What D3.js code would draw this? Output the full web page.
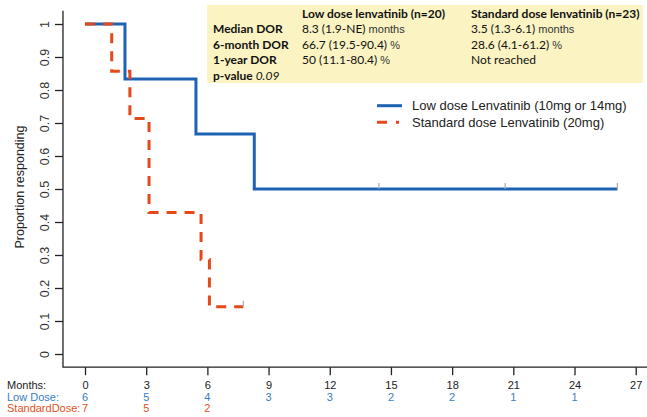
<!DOCTYPE html>
<html><head><meta charset="utf-8">
<script src="https://cdn.jsdelivr.net/npm/d3@7"></script>
<style>
body{margin:0;background:#fff;}
svg{display:block;}
text{font-family:"Liberation Sans",Arial,sans-serif;}
</style></head>
<body>
<script>
// ---- data ----
const lowTimes = [0, 1.96, 5.44, 8.3, 26.1];
const lowSurv  = [1, 0.833, 0.667, 0.5, 0.5];
const lowCensor = [14.41, 20.6, 26.1];
const stdTimes = [0, 1.31, 2.2, 3.14, 5.69, 6.1, 7.76];
const stdSurv  = [1, 0.857, 0.714, 0.429, 0.286, 0.143, 0.143];
const stdCensor = [7.76];
const monthTicks = [0, 3, 6, 9, 12, 15, 18, 21, 24, 27];
const yTicks = [0, 0.1, 0.2, 0.3, 0.4, 0.5, 0.6, 0.7, 0.8, 0.9, 1];
const riskLow = [6, 5, 4, 3, 3, 2, 2, 1, 1];
const riskStd = [7, 5, 2];
const legendLabels = ["Low dose Lenvatinib (10mg or 14mg)", "Standard dose Lenvatinib (20mg)"];
const tableRows = ["Median DOR", "6-month DOR", "1-year DOR"];
const tableHeaders = ["Low dose lenvatinib (n=20)", "Standard dose lenvatinib (n=23)"];
const tableLow = [["8.3 (1.9-NE)", " months"], ["66.7 (19.5-90.4)", " %"], ["50 (11.1-80.4)", " %"]];
const tableStd = [["3.5 (1.3-6.1)", " months"], ["28.6 (4.1-61.2)", " %"], ["Not reached", ""]];
const pValue = "0.09";

const blue = "#1e62b4", red = "#e4491a";
const blueText = "#3a7dc2", redText = "#e2521e";

const W = 647, H = 417;
const svg = d3.select("body").append("svg").attr("width", W).attr("height", H);

const x = d3.scaleLinear().domain([0, 27]).range([85, 635.7]);
const y = d3.scaleLinear().domain([0, 1]).range([354, 24]);

// L-shaped frame
const x0 = x(-1.08), yb = y(-0.04), yt = y(1.04);
svg.append("path").attr("d", `M${x0},${yt}V${yb}H${W}`).attr("fill", "none").attr("stroke", "#222").attr("stroke-width", 1.3);

// y axis
const gy = svg.append("g").attr("transform", `translate(${x0},0)`)
  .call(d3.axisLeft(y).tickValues(yTicks).tickSize(8).tickFormat(d => d3.format("")(d)));
gy.select(".domain").remove();
gy.selectAll(".tick line").attr("stroke", "#222").attr("stroke-width", 1.3);
gy.selectAll(".tick text").attr("x", null).attr("dy", null)
  .attr("transform", "translate(-14,0) rotate(-90)").attr("text-anchor", "middle")
  .attr("font-size", 12.5).attr("fill", "#333").style("font-family", "Liberation Sans, Arial, sans-serif");

// x axis
const gx = svg.append("g").attr("transform", `translate(0,${yb})`)
  .call(d3.axisBottom(x).tickValues(monthTicks).tickSize(8).tickFormat(d3.format("d")));
gx.select(".domain").remove();
gx.selectAll(".tick line").attr("stroke", "#222").attr("stroke-width", 1.3);
gx.selectAll(".tick text").attr("y", null).attr("dy", null)
  .attr("transform", `translate(0,${389 - yb})`)
  .attr("font-size", 11).attr("fill", "#222").style("font-family", "Liberation Sans, Arial, sans-serif");

// y title
svg.append("text").attr("transform", "translate(24,187) rotate(-90)").attr("text-anchor", "middle")
  .attr("font-size", 12.5).attr("fill", "#222").text("Proportion responding");

// number at risk
svg.append("text").attr("x", 7).attr("y", 389).attr("font-size", 11).attr("fill", "#222").text("Months:");
svg.append("text").attr("x", 7).attr("y", 400.5).attr("font-size", 11).attr("fill", blueText).text("Low Dose:");
svg.append("text").attr("x", 7).attr("y", 412).attr("font-size", 11).attr("fill", redText).text("StandardDose:");
svg.selectAll(".rl").data(riskLow).join("text").attr("x", (d, i) => x(monthTicks[i])).attr("y", 400.5)
  .attr("text-anchor", "middle").attr("font-size", 11).attr("fill", blueText).text(d => d);
svg.selectAll(".rs").data(riskStd).join("text").attr("x", (d, i) => x(monthTicks[i])).attr("y", 412)
  .attr("text-anchor", "middle").attr("font-size", 11).attr("fill", redText).text(d => d);

// step curves
function stepPts(times, surv) {
  return times.map((t, i) => [t, surv[i]]);
}
const line = d3.line().x(d => x(d[0])).y(d => y(d[1])).curve(d3.curveStepAfter);
svg.append("path").datum(stepPts(lowTimes, lowSurv)).attr("d", line)
  .attr("fill", "none").attr("stroke", blue).attr("stroke-width", 3);
svg.append("path").datum(stepPts(stdTimes, stdSurv)).attr("d", line)
  .attr("fill", "none").attr("stroke", red).attr("stroke-width", 3).attr("stroke-dasharray", "10,8");

// censor marks
svg.selectAll(".cl").data(lowCensor).join("line").attr("x1", d => x(d)).attr("x2", d => x(d))
  .attr("y1", y(0.5) - 6).attr("y2", y(0.5)).attr("stroke", "#aaa").attr("stroke-width", 1.2);
svg.selectAll(".cs").data(stdCensor).join("line").attr("x1", d => x(d)).attr("x2", d => x(d))
  .attr("y1", y(0.143) - 6).attr("y2", y(0.143)).attr("stroke", "#aaa").attr("stroke-width", 1.2);

// info box
svg.append("rect").attr("x", 207).attr("y", 5).attr("width", 436).attr("height", 78).attr("fill", "#fbf3c2");
const tf = "Lato, 'Open Sans', sans-serif";
const hdrX = [302, 471];
tableHeaders.forEach((h, i) => {
  svg.append("text").attr("x", hdrX[i]).attr("y", 18).attr("font-size", 12).attr("font-weight", "bold")
    .style("font-family", tf).attr("fill", "#111").text(h);
});
const rowY = [33, 48.5, 64];
tableRows.forEach((r, i) => {
  svg.append("text").attr("x", 213).attr("y", rowY[i]).attr("font-size", 12).attr("font-weight", "bold")
    .style("font-family", tf).attr("fill", "#111").text(r);
});
[tableLow, tableStd].forEach((col, c) => {
  col.forEach((v, i) => {
    const t = svg.append("text").attr("x", hdrX[c]).attr("y", rowY[i]).attr("fill", "#111");
    t.append("tspan").style("font-family", tf).attr("font-size", 12).text(v[0]);
    if (v[1]) t.append("tspan").style("font-family", "Liberation Sans, Arial, sans-serif").attr("font-size", 11).attr("fill", "#333").text(v[1]);
  });
});
const pv = svg.append("text").attr("x", 213).attr("y", 79.5).attr("font-size", 12).style("font-family", tf).attr("fill", "#111");
pv.append("tspan").attr("font-weight", "bold").text("p-value ");
pv.append("tspan").attr("font-style", "italic").text(pValue);

// legend
svg.append("line").attr("x1", 377).attr("x2", 402).attr("y1", 105.7).attr("y2", 105.7).attr("stroke", blue).attr("stroke-width", 3);
svg.append("line").attr("x1", 377).attr("x2", 402).attr("y1", 122.3).attr("y2", 122.3).attr("stroke", red).attr("stroke-width", 3).attr("stroke-dasharray", "10,9,3,20");
legendLabels.forEach((l, i) => {
  svg.append("text").attr("x", 412).attr("y", 110.3 + i * 16.6).attr("font-size", 13).attr("fill", "#222").text(l);
});
</script>
</body></html>
